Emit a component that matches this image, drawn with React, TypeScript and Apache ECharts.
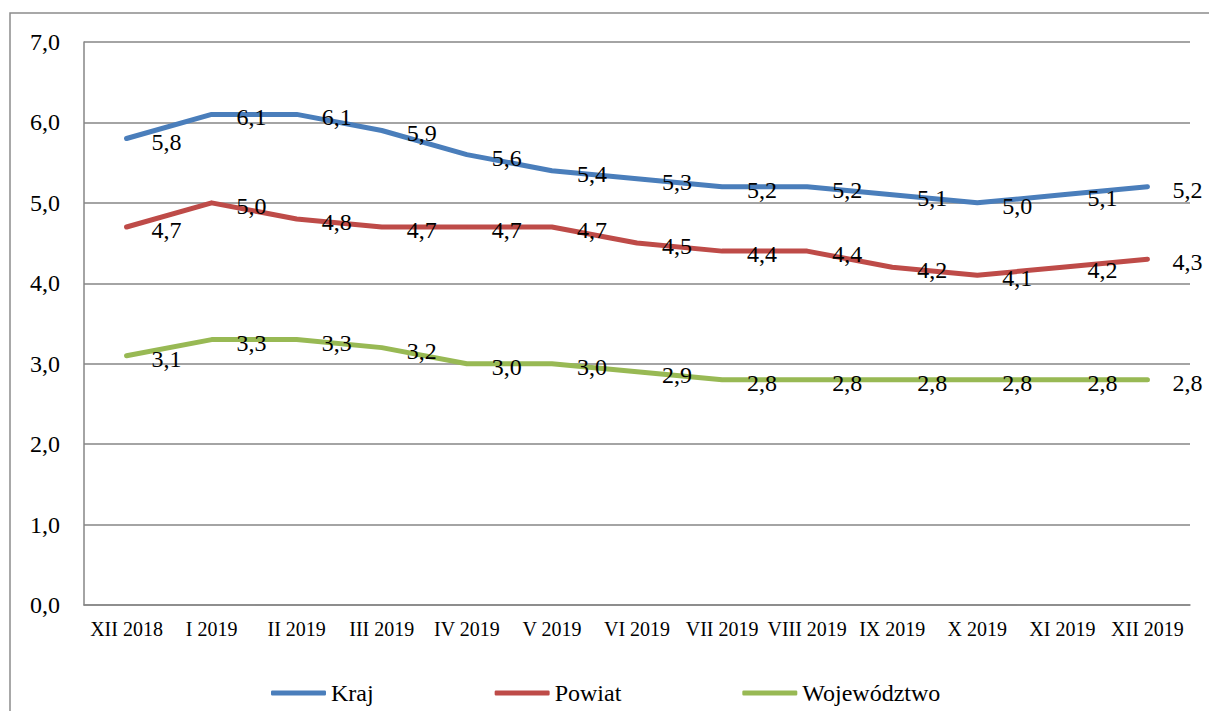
import React, { useEffect, useRef } from "react";
import * as echarts from "echarts";

const categories = ["XII 2018", "I 2019", "II 2019", "III 2019", "IV 2019", "V 2019", "VI 2019", "VII 2019", "VIII 2019", "IX 2019", "X 2019", "XI 2019", "XII 2019"];
const kraj = [5.8, 6.1, 6.1, 5.9, 5.6, 5.4, 5.3, 5.2, 5.2, 5.1, 5.0, 5.1, 5.2];
const powiat = [4.7, 5.0, 4.8, 4.7, 4.7, 4.7, 4.5, 4.4, 4.4, 4.2, 4.1, 4.2, 4.3];
const wojewodztwo = [3.1, 3.3, 3.3, 3.2, 3.0, 3.0, 2.9, 2.8, 2.8, 2.8, 2.8, 2.8, 2.8];

const FONT = "Liberation Serif";
const fmt = (v: number) => v.toFixed(1).replace(".", ",");

export default function App() {
  const ref = useRef<HTMLDivElement>(null);
  useEffect(() => {
    document.body.style.margin = "0";
    const chart = echarts.init(ref.current!, null, { renderer: "svg" });
    const mk = (name: string, data: number[], color: string) => ({
      name,
      type: "line",
      data,
      symbol: "circle",
      symbolSize: 1,
      showSymbol: true,
      itemStyle: { color },
      lineStyle: { color, width: 5, cap: "round", join: "round" },
      label: {
        show: true,
        position: "inside",
        offset: [40, 3],
        formatter: (p: any) => fmt(p.value),
        color: "#000",
        fontFamily: FONT,
        fontSize: 24,
      },
      emphasis: { disabled: true },
    });
    chart.setOption({
      animation: false,
      textStyle: { fontFamily: FONT },
      grid: { left: 84, right: 19, top: 42, bottom: 106, containLabel: false },
      graphic: [
        {
          type: "rect",
          shape: { x: 10, y: 13, width: 1220, height: 720 },
          style: { fill: "none", stroke: "#8c8c8c", lineWidth: 1.5 },
          silent: true,
        },
      ],
      legend: {
        left: 266,
        top: 676,
        itemWidth: 55,
        itemHeight: 5,
        itemGap: 121,
        icon: "roundRect",
        textStyle: { fontFamily: FONT, fontSize: 24, color: "#000" },
        data: ["Kraj", "Powiat", "Województwo"],
      },
      xAxis: {
        type: "category",
        data: categories,
        boundaryGap: true,
        axisLine: { show: true, lineStyle: { color: "#868686", width: 1.5 } },
        axisTick: { show: false },
        axisLabel: { color: "#000", fontFamily: FONT, fontSize: 20, margin: 14, interval: 0 },
      },
      yAxis: {
        type: "value",
        min: 0,
        max: 7,
        interval: 1,
        axisLine: { show: true, lineStyle: { color: "#868686", width: 1.5 } },
        axisTick: { show: false },
        splitLine: { show: true, lineStyle: { color: "#868686", width: 1.5 } },
        axisLabel: { color: "#000", fontFamily: FONT, fontSize: 24, margin: 24, formatter: (v: number) => fmt(v) },
      },
      series: [
        mk("Kraj", kraj, "#4A7EBB"),
        mk("Powiat", powiat, "#BE4B48"),
        mk("Województwo", wojewodztwo, "#98B954"),
      ],
    });
    return () => chart.dispose();
  }, []);
  return <div ref={ref} style={{ width: 1209, height: 711 }} />;
}
